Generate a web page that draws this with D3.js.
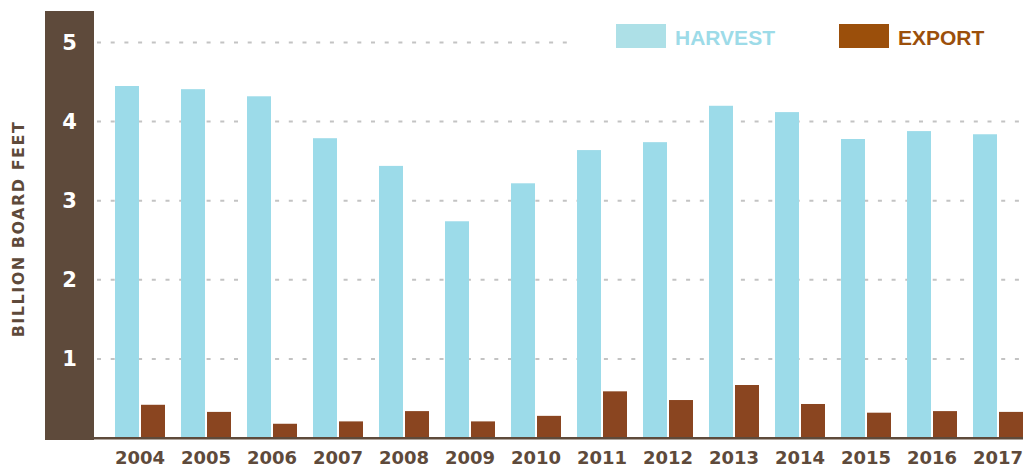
<!DOCTYPE html>
<html>
<head>
<meta charset="utf-8">
<script src="https://cdn.jsdelivr.net/npm/d3@7"></script>
<style>
  body { margin: 0; background: #fff; }
  svg { display: block; }
</style>
</head>
<body>
<svg id="chart" width="1023" height="467"></svg>
<script>
const years = ['2004', '2005', '2006', '2007', '2008', '2009', '2010',
  '2011', '2012', '2013', '2014', '2015', '2016', '2017'];
const harvest = [4.45, 4.41, 4.32, 3.79, 3.44, 2.74, 3.22, 3.64, 3.74, 4.20, 4.12, 3.78, 3.88, 3.84];
const exportVals = [0.42, 0.33, 0.18, 0.21, 0.34, 0.21, 0.28, 0.59, 0.48, 0.67, 0.43, 0.32, 0.34, 0.33];
const yTicks = [1, 2, 3, 4, 5];
const seriesNames = ['HARVEST', 'EXPORT'];

const BROWN = '#5e4a3b';
const colors = { bar: ['#9cdbe9', '#8a4520'], swatch: ['#ade0e7', '#9b4f0b'], text: ['#9ddbe8', '#9b4f0b'] };

const svg = d3.select('#chart');

const x = d3.scaleBand()
  .domain(years)
  .range([107, 1031])
  .paddingInner(16 / 66)
  .paddingOuter(8 / 66);
const xs = d3.scaleBand()
  .domain([0, 1])
  .range([0, x.bandwidth()])
  .paddingInner(2 / 26);
const y = d3.scaleLinear().domain([0, 5]).range([438, 42.5]);

// gridlines (top one stops before the legend)
svg.append('g')
  .selectAll('line')
  .data(yTicks)
  .enter()
  .append('line')
  .attr('x1', 97)
  .attr('x2', d => d === 5 ? 572 : 1023)
  .attr('y1', d => y(d))
  .attr('y2', d => y(d))
  .attr('stroke', '#c3c3c3')
  .attr('stroke-width', 2)
  .attr('stroke-dasharray', '4,9.7');

// left brown band
svg.append('rect')
  .attr('x', 45).attr('y', 11)
  .attr('width', 49).attr('height', 429)
  .attr('fill', BROWN);

// y tick labels
const yAxis = svg.append('g')
  .attr('transform', 'translate(69.5,0)')
  .call(d3.axisLeft(y).tickValues(yTicks).tickSize(0).tickPadding(0).tickFormat(d3.format('d')));
yAxis.select('.domain').remove();
yAxis.selectAll('text')
  .attr('text-anchor', 'middle')
  .attr('fill', '#fff')
  .style('font', 'bold 21px "DejaVu Sans"');

// bars
const groups = svg.append('g')
  .selectAll('g')
  .data(years.map((yr, i) => ({ yr, vals: [harvest[i], exportVals[i]] })))
  .enter()
  .append('g')
  .attr('transform', d => `translate(${x(d.yr)},0)`);
groups.selectAll('rect')
  .data(d => d.vals)
  .enter()
  .append('rect')
  .attr('x', (d, i) => xs(i))
  .attr('width', xs.bandwidth())
  .attr('y', d => y(d))
  .attr('height', d => y(0) - y(d))
  .attr('fill', (d, i) => colors.bar[i]);

// baseline
svg.append('rect')
  .attr('x', 94).attr('y', 437)
  .attr('width', 929).attr('height', 2.5)
  .attr('fill', BROWN);

// x labels
const xAxis = svg.append('g')
  .attr('transform', 'translate(0,451)')
  .call(d3.axisBottom(x).tickSize(0).tickPadding(0));
xAxis.select('.domain').remove();
xAxis.selectAll('text')
  .attr('dy', '0.72em')
  .attr('fill', BROWN)
  .style('font', 'bold 18px "DejaVu Sans"');

// y title
svg.append('text')
  .attr('transform', 'translate(24,229) rotate(-90)')
  .attr('text-anchor', 'middle')
  .attr('fill', BROWN)
  .style('font', 'bold 16px "DejaVu Sans"')
  .style('letter-spacing', '1.5px')
  .text('BILLION BOARD FEET');

// legend
const legendX = [616, 839];
const legend = svg.append('g')
  .selectAll('g')
  .data(seriesNames)
  .enter()
  .append('g')
  .attr('transform', (d, i) => `translate(${legendX[i]},24)`);
legend.append('rect')
  .attr('width', 50).attr('height', 24)
  .attr('fill', (d, i) => colors.swatch[i]);
legend.append('text')
  .attr('x', 59).attr('y', 20.5)
  .attr('fill', (d, i) => colors.text[i])
  .style('font', 'bold 21px "Liberation Sans"')
  .text(d => d);
</script>
</body>
</html>
